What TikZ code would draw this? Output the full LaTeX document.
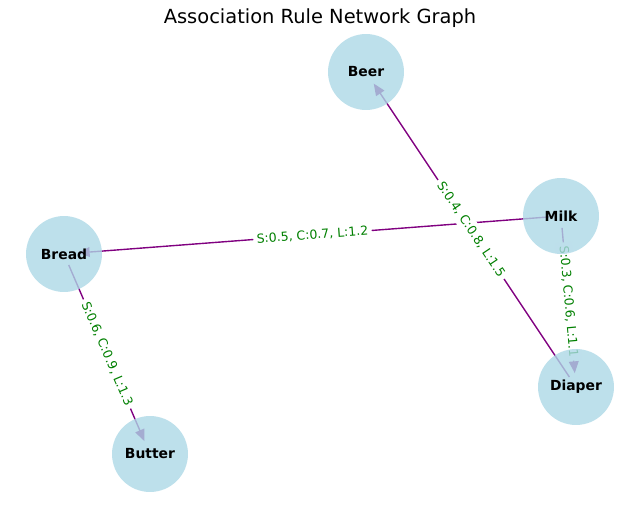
\documentclass[tikz,border=0pt]{standalone}
\usepackage{fontspec}
\setmainfont{DejaVu Sans}
\usepackage{xcolor}
\usepackage{tikz}
\usetikzlibrary{shapes,arrows.meta,positioning,calc}
\pgfdeclarelayer{background}
\pgfsetlayers{background,main}
\definecolor{nodeblue}{RGB}{173,216,230}
\definecolor{rulepurple}{RGB}{128,0,128}
\definecolor{rulegreen}{RGB}{0,128,0}

\begin{document}
\begin{tikzpicture}[x=0.72pt,y=-0.72pt,
  item/.style={circle,fill=nodeblue,fill opacity=0.8,text opacity=1,minimum size=54.7pt,inner sep=0pt,font=\fontsize{10}{12}\selectfont\bfseries},
  rule/.style={-{Triangle[length=8.5pt,width=7pt]},draw=rulepurple,line width=1pt,shorten <=8.6pt,shorten >=10pt},
  measure/.style={sloped,fill=white,text=rulegreen,inner sep=2.5pt,font=\fontsize{9}{11}\selectfont}]
\useasboundingbox (0,0) rectangle (640,505);
\node (title) at (320,18) {\fontsize{14}{17}\selectfont Association Rule Network Graph};

\node[item] (beer) at (366,72) {Beer};
\node[item] (milk) at (561,216) {Milk};
\node[item] (bread) at (64,254) {Bread};
\node[item] (diaper) at (576,387) {Diaper};
\node[item] (butter) at (150,454) {Butter};

\begin{pgfonlayer}{background}
\draw[rule] (milk.center) -- node[measure] {S:0.5, C:0.7, L:1.2} (bread.center);
\draw[rule] (milk.center) -- node[measure] {S:0.3, C:0.6, L:1.1} (diaper.center);
\draw[rule] (diaper.center) -- node[measure] {S:0.4, C:0.8, L:1.5} (beer.center);
\draw[rule] (bread.center) -- node[measure] {S:0.6, C:0.9, L:1.3} (butter.center);
\end{pgfonlayer}
\end{tikzpicture}
\end{document}
